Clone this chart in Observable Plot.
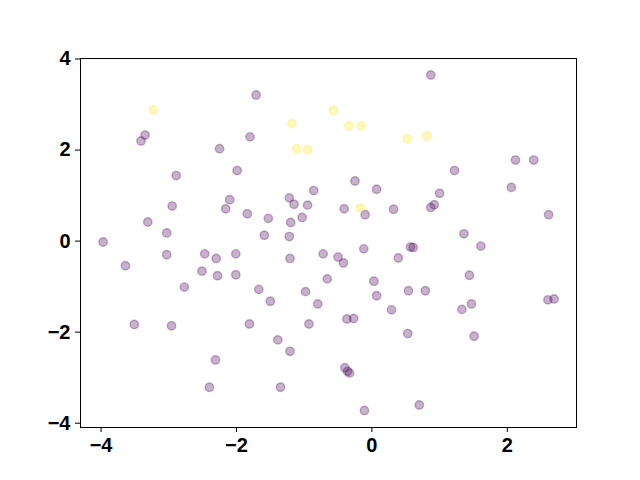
<!DOCTYPE html>
<html>
<head>
<meta charset="utf-8">
<script src="https://cdn.jsdelivr.net/npm/d3@7"></script>
<script src="https://cdn.jsdelivr.net/npm/@observablehq/plot@0.6"></script>
<style>
  html, body { margin: 0; padding: 0; background: #fff; }
  #chart svg text { font-size: 20px; font-weight: bold; font-family: 'Liberation Sans', Arial, sans-serif; fill: #000; }
</style>
</head>
<body>
<div id="chart"></div>
<script>
// Points of class 0 (purple)
const purpleX = [-1.71, -3.35, -3.41, -1.80, -2.25, -1.99, -2.89, -0.86, -2.10, -1.22, -1.15, -0.95, -2.16, -2.95, -1.03, -1.84, -1.53, -1.20, -3.31, -3.03, -1.59, -1.22, -3.97,
  0.87, 2.12, 2.39, 1.22, 2.06, -0.25, 0.07, 1.00, -0.41, -0.10, 0.32, 0.87, 0.92, 2.61, 1.36,
  -3.03, -3.64, -2.47, -2.30, -2.01, -1.21, -0.72, -2.51, -2.28, -2.01, -0.66, -2.77, -1.67, -1.50, -0.98, -0.80, -3.51, -2.96, -1.81, -0.93, -1.39, -1.21, -2.31, -2.40, -1.35,
  -0.50, -0.42, -0.12, 0.57, 0.61, 1.61, 0.39, 1.44, 0.03, 0.07, 0.54, 0.79, 2.60, 2.69, 0.29, 1.33, 1.47, -0.37, -0.27, 0.53, 1.51, -0.40, -0.36, -0.33, -0.11, 0.70];
const purpleY = [3.21, 2.33, 2.20, 2.29, 2.03, 1.55, 1.44, 1.11, 0.91, 0.95, 0.81, 0.79, 0.71, 0.77, 0.52, 0.60, 0.50, 0.41, 0.42, 0.18, 0.13, 0.10, -0.02,
  3.65, 1.78, 1.78, 1.55, 1.18, 1.32, 1.14, 1.05, 0.71, 0.58, 0.70, 0.74, 0.80, 0.58, 0.16,
  -0.30, -0.54, -0.28, -0.38, -0.28, -0.38, -0.28, -0.66, -0.76, -0.74, -0.83, -1.01, -1.06, -1.32, -1.11, -1.38, -1.83, -1.86, -1.82, -1.82, -2.17, -2.42, -2.61, -3.21, -3.21,
  -0.35, -0.48, -0.17, -0.13, -0.14, -0.11, -0.37, -0.75, -0.88, -1.20, -1.09, -1.09, -1.29, -1.27, -1.51, -1.50, -1.38, -1.71, -1.70, -2.03, -2.09, -2.78, -2.86, -2.90, -3.72, -3.60];
// Points of class 1 (yellow)
const yellowX = [-3.23, -1.18, -1.11, -0.95, -0.57, -0.34, -0.16, 0.52, 0.81, -0.17];
const yellowY = [2.88, 2.58, 2.03, 2.01, 2.87, 2.53, 2.53, 2.25, 2.31, 0.73];
const classes = [0, 1];
const classColors = ["#440154", "#fde725"];
const xTicks = [-4, -2, 0, 2];
const yTicks = [-4, -2, 0, 2, 4];

const points = [
  ...purpleX.map((x, i) => ({x, y: purpleY[i], c: 0})),
  ...yellowX.map((x, i) => ({x, y: yellowY[i], c: 1}))
];

const chart = Plot.plot({
  width: 640,
  height: 480,
  marginLeft: 80,
  marginRight: 64,
  marginTop: 58,
  marginBottom: 53,
  style: {fontFamily: "'Liberation Sans', Arial, sans-serif", fontSize: "20px", fontWeight: "bold", color: "black", background: "white"},
  x: {domain: [-4.304, 3.022], label: null},
  y: {domain: [-4.094, 4.011], label: null},
  color: {type: "ordinal", domain: classes, range: classColors},
  marks: [
    Plot.dot(points, {x: "x", y: "y", fill: "c", stroke: "c", r: 4.2, strokeWidth: 1.4, fillOpacity: 0.3, strokeOpacity: 0.3}),
    Plot.frame({stroke: "black", strokeWidth: 1}),
    Plot.axisX({ticks: xTicks, tickSize: 5, tickPadding: 5, fontSize: 20, tickFormat: d3.format("d"), label: null}),
    Plot.axisY({ticks: yTicks, tickSize: 5, tickPadding: 5, fontSize: 20, tickFormat: d3.format("d"), label: null})
  ]
});
document.getElementById("chart").appendChild(chart);
</script>
</body>
</html>
